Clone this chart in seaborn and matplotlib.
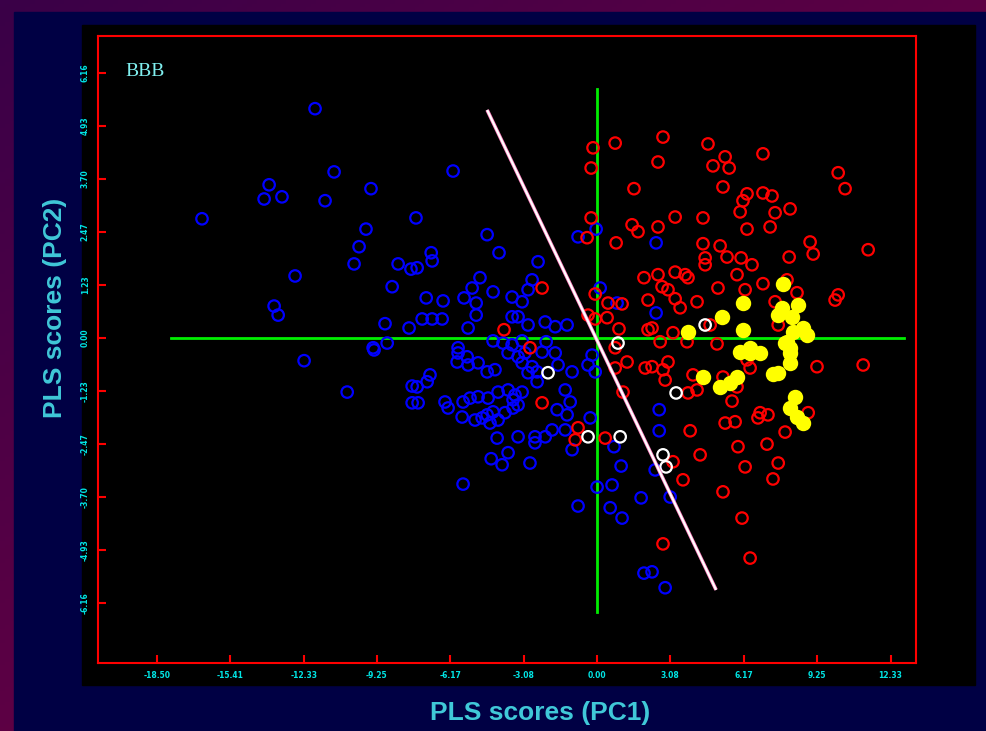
import numpy as np
import pandas as pd
import seaborn as sns
import matplotlib.pyplot as plt
from matplotlib.patches import Rectangle
from matplotlib.colors import LinearSegmentedColormap

# PLS scores (PC1, PC2)
blue_pc1 = [-11.85, -11.05, -13.78, -13.99, -13.24, -11.43, -9.50, -16.60, -7.61, -9.71,
            -10.00, -10.21, -8.36, -7.82, -12.69, -8.61, -13.57, -13.40, -8.91, -7.90,
            -8.82, -9.41, -12.31, -10.50, -7.77, -7.77, -5.63, -6.05, -4.62, -6.97,
            -6.93, -4.12, -7.56, -2.48, -0.80, -0.04, -4.92, -5.25, -4.37, -7.18,
            -6.47, -5.59, -5.08, -3.57, -3.15, -2.73, -2.90, 0.13, 0.84, -7.35,
            -6.93, -6.51, -5.08, -5.42, -3.57, -3.32, -2.90, -2.18, -1.76, -1.26,
            -4.37, -3.95, -3.15, -2.14, -5.84, -5.84, -5.46, -5.88, -5.42, -5.00,
            -4.62, -4.29, -3.74, -3.32, -3.57, -3.03, -3.15, -2.73, -2.90, -2.52,
            -2.31, -1.76, -1.64, -1.05, -0.21, -0.38, -0.08, -7.02, -7.14, -7.56,
            -7.52, -6.39, -6.26, -5.63, -5.67, -5.34, -5.00, -4.58, -4.16, -3.74,
            -3.45, -3.15, -3.53, -4.83, -4.50, -4.16, -3.87, -3.53, -3.32, -5.13,
            -4.62, -4.37, -2.52, -1.34, -1.13, -1.68, -1.26, -0.29, -1.34, -1.89,
            -2.18, -2.61, -2.61, -4.20, -3.32, -1.05, -4.45, -3.99, -3.74, -2.82,
            0.00, 0.63, -0.80, 0.55, 1.05, 1.85, 1.97, 0.71, 1.01, 2.61,
            2.61, 2.44, 3.07, 2.31, 2.86, 2.48, 2.48, -9.37]
blue_pc2 = [5.33, 3.86, 3.56, 3.23, 3.28, 3.19, 3.47, 2.77, 2.79, 2.53,
            2.12, 1.72, 1.72, 1.60, 1.44, 1.19, 0.74, 0.53, 0.33, 0.23,
            -0.12, -0.23, -0.53, -1.26, -1.12, -1.51, -3.40, 3.88, 2.40, 1.98,
            1.79, 1.98, 1.63, 1.77, 2.35, 2.53, 1.40, 1.16, 1.07, 0.93,
            0.86, 0.93, 0.81, 0.95, 0.84, 1.35, 1.12, 1.16, 0.81, 0.44,
            0.44, 0.44, 0.53, 0.23, 0.49, 0.49, 0.30, 0.37, 0.26, 0.30,
            -0.07, -0.12, -0.07, -0.09, -0.23, -0.35, -0.44, -0.56, -0.63, -0.58,
            -0.79, -0.74, -0.35, -0.44, -0.16, -0.35, -0.58, -0.67, -0.81, -0.79,
            -0.33, -0.35, -0.63, -0.79, -0.40, -0.63, -0.79, -0.86, -1.02, -1.14,
            -1.51, -1.49, -1.63, -1.49, -1.84, -1.40, -1.37, -1.40, -1.26, -1.21,
            -1.33, -1.26, -1.44, -1.86, -1.98, -1.91, -1.74, -1.63, -1.56, -1.91,
            -1.79, -1.72, -1.02, -1.21, -1.49, -1.67, -1.79, -1.86, -2.14, -2.14,
            -2.30, -2.30, -2.44, -2.33, -2.30, -2.60, -2.81, -2.95, -2.67, -2.91,
            -3.47, -3.42, -3.91, -3.95, -4.19, -3.72, -5.47, -2.53, -2.98, -1.67,
            -2.16, -3.07, -3.70, -5.44, -5.81, 2.21, 0.58, -0.28]

red_pc1 = [-0.17, 0.76, -0.25, 1.55, -0.25, 1.47, 1.72, -0.42, 0.80, 1.97,
           -2.31, -0.08, 0.46, 1.05, 2.14, -0.38, -0.08, 0.42, 0.92, -3.91,
           2.14, -2.82, -2.31, -0.92, -0.80, 0.34, 0.76, 1.26, 0.76, 2.02,
           1.09, 2.65, 3.78, 5.04, 2.98, 2.77, 2.86, 2.31, 4.03, 4.20,
           3.82, 5.29, 5.88, 6.43, 6.30, 5.67, 6.85, 7.18, 6.76, 5.38,
           5.80, 7.90, 8.87, 3.91, 5.92, 7.14, 4.33, 6.22, 7.61, 7.39,
           3.19, 3.61, 5.29, 6.09, 2.77, 6.43, 9.24, 11.18, 2.77, 4.66,
           6.97, 2.56, 5.38, 4.87, 5.55, 10.13, 10.42, 5.29, 6.30, 6.97,
           7.35, 6.13, 6.01, 7.48, 8.11, 3.28, 4.45, 2.56, 6.30, 7.27,
           4.45, 5.17, 4.54, 4.54, 5.46, 6.05, 6.51, 5.88, 8.95, 9.08,
           8.07, 11.39, 3.28, 3.70, 3.82, 2.56, 2.73, 2.98, 3.28, 3.49,
           4.20, 5.08, 6.22, 6.97, 7.98, 8.40, 10.13, 10.00, 7.48, 7.77,
           7.61, 4.75, 2.31, 3.19]
red_pc2 = [4.42, 4.53, 3.95, 3.47, 2.79, 2.63, 2.47, 2.33, 2.21, 1.40,
           1.16, 1.02, 0.81, 0.79, 0.88, 0.53, 0.44, 0.47, 0.21, 0.19,
           0.19, -0.23, -1.51, -2.37, -2.09, -2.33, -0.23, -0.56, -0.70, -0.70,
           -1.26, -0.09, -0.09, -0.14, -0.56, -0.74, -0.98, -0.67, -0.86, -1.21,
           -1.28, -0.91, -1.14, -0.70, -0.51, -1.47, -1.74, -1.79, -1.86, -1.98,
           -1.95, -2.19, -1.74, -2.16, -2.53, -2.47, -2.72, -3.00, -2.91, -3.28,
           -2.88, -3.30, -3.58, -4.19, -4.79, -5.12, -0.67, -0.63, 4.67, 4.51,
           4.28, 4.09, 4.21, 4.00, 3.95, 3.84, 3.47, 3.51, 3.35, 3.37,
           3.30, 3.19, 2.93, 2.91, 3.00, 2.81, 2.79, 2.58, 2.53, 2.58,
           2.19, 2.14, 1.86, 1.70, 1.88, 1.86, 1.70, 1.47, 2.23, 1.95,
           1.88, 2.05, 1.53, 1.47, 1.40, 1.47, 1.19, 1.12, 0.91, 0.70,
           0.84, 1.16, 1.12, 1.26, 1.35, 1.05, 1.00, 0.88, 0.84, 0.65,
           0.30, 0.30, 0.23, 0.12]

yellow_pc1 = [6.01, 6.43, 6.85, 7.90, 8.11, 8.11, 7.61, 7.39, 4.45, 5.17,
              5.59, 5.88, 8.32, 8.11, 8.40, 8.66, 7.82, 6.13, 8.45, 8.19,
              7.77, 7.61, 8.66, 8.82, 8.24, 7.98, 8.11, 6.13, 5.25, 3.82, 6.43]
yellow_pc2 = [-0.33, -0.35, -0.35, -0.12, -0.35, -0.58, -0.81, -0.84, -0.91, -1.14,
              -1.05, -0.91, -1.37, -1.63, -1.84, -1.98, 1.26, 0.81, 0.77, 0.49,
              0.70, 0.53, 0.23, 0.07, 0.14, -0.09, -0.23, 0.19, 0.49, 0.14, -0.23]

white_pc1 = [0.88, -2.06, -0.38, 0.97, 3.32, 2.77, 2.90, 4.54]
white_pc2 = [-0.12, -0.81, -2.30, -2.30, -1.28, -2.72, -3.00, 0.30]

x_ticks = [-18.50, -15.41, -12.33, -9.25, -6.17, -3.08, 0.00, 3.08, 6.17, 9.25, 12.33]
y_ticks = [-6.16, -4.93, -3.70, -2.47, -1.23, 0.00, 1.23, 2.47, 3.70, 4.93, 6.16]

# reference lines
hline_x = [-17.90, 12.90]
vline_y = [-6.37, 5.79]
split_x = [-4.62, 5.00]
split_y = [5.30, -5.86]

W, H = 987, 731
fig = plt.figure(figsize=(W / 100, H / 100), dpi=100)

# slide background: purple gradient frame, navy field, black panel
bg = fig.add_axes([0, 0, 1, 1], zorder=-1)
cmap = LinearSegmentedColormap.from_list('frame', ['#3a0048', '#800040'])
gx, gy = np.meshgrid(np.linspace(0, 1, 200), np.linspace(0, 1, 200))
bg.imshow((gx + gy) / 2, cmap=cmap, extent=[0, 1, 0, 1], aspect='auto', origin='upper')
bg.add_patch(Rectangle((14 / W, 0), 1, 1 - 12 / H, transform=bg.transAxes, color='#000044'))
bg.add_patch(Rectangle((82 / W, 1 - 685 / H), (975 - 82) / W, (685 - 25) / H,
                       transform=bg.transAxes, color='black'))
bg.set_xlim(0, 1)
bg.set_ylim(0, 1)
bg.axis('off')

ax = fig.add_axes([98 / W, 1 - 663 / H, (916 - 98) / W, (663 - 36) / H], zorder=1)
ax.set_facecolor('black')

ax.plot(hline_x, [0, 0], color='#00ee00', lw=2, zorder=2)
ax.plot([0, 0], vline_y, color='#00ee00', lw=2, zorder=2)

groups = [(blue_pc1, blue_pc2, '#0000ff', 'none', 68),
          (red_pc1, red_pc2, '#ff0000', 'none', 68),
          (yellow_pc1, yellow_pc2, '#ffff00', '#ffff00', 90),
          (white_pc1, white_pc2, '#ffffff', 'none', 68)]
for px, py, col, face, size in groups:
    df = pd.DataFrame({'PC1': px, 'PC2': py})
    sns.scatterplot(data=df, x='PC1', y='PC2', ax=ax, color=col, facecolor=face,
                    edgecolor=col, linewidth=1.6, s=size, marker='o', zorder=3, legend=False)

ax.plot(split_x, split_y, color='#ff80c0', lw=2.6, zorder=4, solid_capstyle='butt')
ax.plot(split_x, split_y, color='white', lw=1.5, zorder=5, solid_capstyle='butt')

ax.set_xlim(-20.97, 13.40)
ax.set_ylim(-7.56, 7.02)
ax.set_xticks(x_ticks)
ax.set_xticklabels([f'{v:.2f}' for v in x_ticks])
ax.set_yticks(y_ticks)
ax.set_yticklabels([f'{v:.2f}' for v in y_ticks], rotation=90, va='center')
ax.tick_params(direction='in', colors='#ff0000', length=6, width=1.5, labelsize=5.5,
               labelcolor='#00e5e5', pad=6)
for lab in ax.get_xticklabels() + ax.get_yticklabels():
    lab.set_fontweight('bold')
for sp in ax.spines.values():
    sp.set_color('#ff0000')
    sp.set_linewidth(1.5)
ax.set_xlabel('')
ax.set_ylabel('')

fig.text(125 / W, 1 - 72 / H, 'BBB', family='Liberation Serif', fontsize=14,
         color='#80f0f0', va='center', ha='left')
fig.text(540 / W, 1 - 713 / H, 'PLS scores (PC1)', family='Liberation Sans',
         fontweight='bold', fontsize=19, color='#40c8d8', ha='center', va='center')
fig.text(55 / W, 1 - 308 / H, 'PLS scores (PC2)', family='Liberation Sans',
         fontweight='bold', fontsize=19, color='#40c8d8', ha='center', va='center',
         rotation=90)

fig.savefig('out.png', dpi=100)
